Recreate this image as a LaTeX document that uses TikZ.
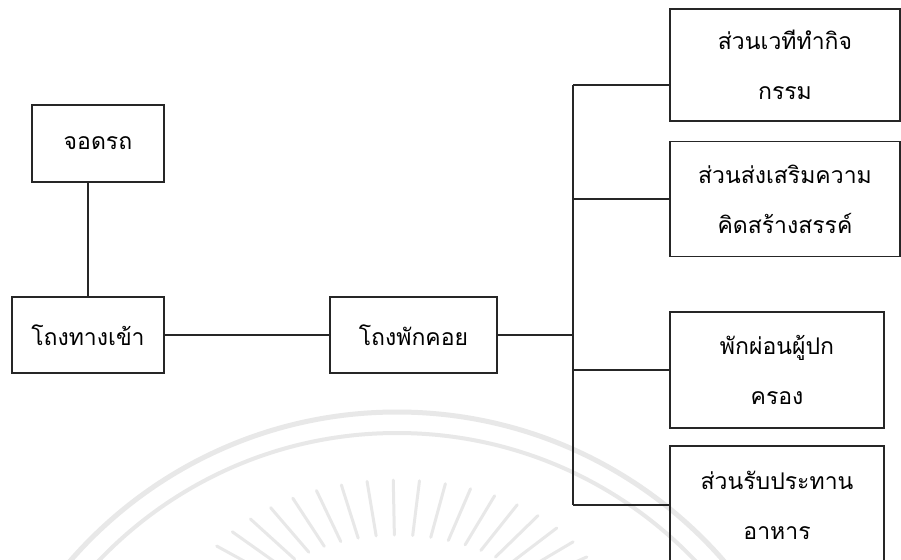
\documentclass[tikz,border=0pt]{standalone}
\usepackage{fontspec}
\newfontfamily\thaifont[Script=Thai]{Loma}
\begin{document}
\begin{tikzpicture}[x=1pt,y=-1pt,
  box/.style={draw=black!85, line width=1.8pt, align=center, inner sep=0pt,
              font=\thaifont\fontsize{23}{50}\selectfont},
  link/.style={draw=black!85, line width=1.8pt},
  seal/.style={draw=black!9, line width=5pt, line cap=round}]
\useasboundingbox (0,0) rectangle (901,559);
\clip (0,0) rectangle (901,559);
\fill[white] (0,0) rectangle (901,559);

% faint seal in the background
\draw[seal] (397,845) circle[radius=433];
\draw[seal, line width=4pt] (397,845) circle[radius=412];
\foreach \a in {14,21,...,166}{
  \draw[seal, line width=3pt]
    ({397+215*cos(\a)},{625-145*sin(\a)}) -- ({397+150*cos(\a)},{625-90*sin(\a)});
}

% boxes
\node[box, minimum width=132pt, minimum height=77pt] (park) at (98,143.5) {จอดรถ};
\node[box, minimum width=152pt, minimum height=76pt] (ent) at (88,335) {โถงทางเข้า};
\node[box, minimum width=167pt, minimum height=76pt] (wait) at (413.5,335) {โถงพักคอย};
\node[box, minimum width=230pt, minimum height=112pt] (b1) at (785,65) {ส่วนเวทีทำกิจ\\กรรม};
\node[box, minimum width=230pt, minimum height=115pt] (b2) at (785,199) {ส่วนส่งเสริมความ\\คิดสร้างสรรค์};
\node[box, minimum width=214pt, minimum height=116pt] (b3) at (777,370) {พักผ่อนผู้ปก\\ครอง};
\node[box, minimum width=214pt, minimum height=118pt] (b4) at (777,505) {ส่วนรับประทาน\\อาหาร};

% bus ends
\coordinate (bt) at (573,85);
\coordinate (bb) at (573,505);

% connectors
\draw[link] (ent.north) -- (ent.north |- park.south);
\draw[link] (ent.east) -- (wait.west);
\draw[link] (wait.east) -- (wait.east -| bt);
\draw[link] (bt) -- (bb);
\draw[link] (bt) -- (bt -| b1.west);
\draw[link] (b2.west -| bt) -- (b2.west);
\draw[link] (b3.west -| bt) -- (b3.west);
\draw[link] (bb) -- (bb -| b4.west);
\end{tikzpicture}
\end{document}
